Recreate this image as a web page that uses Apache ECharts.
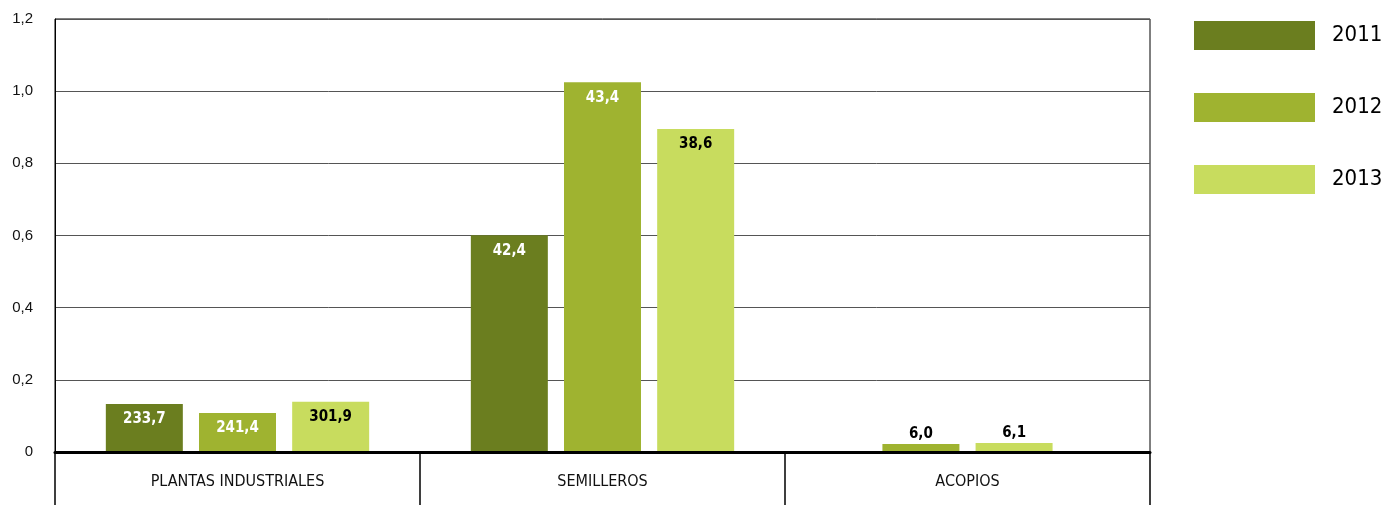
<!DOCTYPE html>
<html>
<head>
<meta charset="utf-8">
<script src="https://cdn.jsdelivr.net/npm/echarts@6/dist/echarts.min.js"></script>
<style>
  html, body { margin: 0; padding: 0; background: #fff; }
  #chart { width: 1381px; height: 505px; }
</style>
</head>
<body>
<div id="chart"></div>
<script>
// ---- data ----
var categories = ['PLANTAS INDUSTRIALES', 'SEMILLEROS', 'ACOPIOS'];
var years = ['2011', '2012', '2013'];
var heights2011 = [0.133, 0.601, null];
var heights2012 = [0.108, 1.025, 0.022];
var heights2013 = [0.139, 0.895, 0.025];
var labels2011 = ['233,7', '42,4', ''];
var labels2012 = ['241,4', '43,4', '6,0'];
var labels2013 = ['301,9', '38,6', '6,1'];
var yTicks = [0, 0.2, 0.4, 0.6, 0.8, 1.0, 1.2];

var colors = ['#6b7e1f', '#9fb330', '#c8dc5e'];
var labelColors = ['#ffffff', '#ffffff', '#000000'];
var heights = [heights2011, heights2012, heights2013];
var labels = [labels2011, labels2012, labels2013];

var cond = '"DejaVu Sans Condensed", "Liberation Sans Narrow", "Liberation Sans", Arial, sans-serif';

// categories where some year is missing get their own (hidden) axis so the
// remaining bars are centred in the category
var partialCats = categories.map(function (c, ci) {
  return heights.some(function (h) { return h[ci] == null; });
});

function barLabel(si) {
  return {
    show: true,
    position: 'insideTop',
    distance: 8,
    color: labelColors[si],
    fontFamily: cond,
    fontWeight: 'bold',
    fontSize: 15,
    formatter: function (p) { return p.data.lbl; }
  };
}

var series = [];
years.forEach(function (y, si) {
  series.push({
    name: y,
    type: 'bar',
    xAxisIndex: 0,
    barWidth: 77,
    barGap: '21%',
    itemStyle: { color: colors[si] },
    label: barLabel(si),
    data: heights[si].map(function (h, ci) {
      return partialCats[ci] ? { value: null, lbl: '' } : { value: h, lbl: labels[si][ci] };
    })
  });
});
years.forEach(function (y, si) {
  var has = heights[si].some(function (h, ci) { return partialCats[ci] && h != null; });
  if (!has) return;
  series.push({
    name: y,
    type: 'bar',
    xAxisIndex: 1,
    barWidth: 77,
    barGap: '21%',
    itemStyle: { color: colors[si] },
    label: Object.assign(barLabel(si), { position: 'top', distance: 2, color: '#000' }),
    data: heights[si].map(function (h, ci) {
      return partialCats[ci] ? { value: h, lbl: labels[si][ci] } : { value: null, lbl: '' };
    })
  });
});

var chart = echarts.init(document.getElementById('chart'), null, { renderer: 'canvas' });
chart.setOption({
  animation: false,
  color: colors,
  grid: {
    left: 55, right: 231, top: 19, bottom: 53,
    show: true, borderColor: '#000', borderWidth: 1, backgroundColor: 'transparent'
  },
  legend: {
    orient: 'vertical',
    left: 1194,
    top: 21,
    padding: 0,
    itemWidth: 121,
    itemHeight: 29,
    itemGap: 43,
    icon: 'rect',
    data: years,
    textStyle: {
      fontFamily: cond,
      fontSize: 22,
      color: '#000',
      padding: [0, 0, 0, 12]
    }
  },
  xAxis: [{
    type: 'category',
    data: categories,
    z: 3,
    axisLine: { show: true, lineStyle: { color: '#000', width: 3 } },
    axisTick: { show: true, length: 60, lineStyle: { color: '#000', width: 1.5 } },
    axisLabel: {
      margin: 22,
      fontFamily: cond,
      fontSize: 16,
      color: '#111'
    },
    splitLine: { show: false }
  }, {
    type: 'category',
    data: categories,
    show: false
  }],
  yAxis: {
    type: 'value',
    min: yTicks[0],
    max: yTicks[yTicks.length - 1],
    interval: 0.2,
    axisLine: { show: true, lineStyle: { color: '#000', width: 1 } },
    axisTick: { show: false },
    splitLine: { show: true, lineStyle: { color: '#555', width: 1 } },
    axisLabel: {
      margin: 22,
      fontFamily: '"Liberation Sans", Arial, sans-serif',
      fontSize: 15,
      color: '#111',
      formatter: function (v) {
        return Math.abs(v) < 1e-9 ? '0' : v.toFixed(1).replace('.', ',');
      }
    }
  },
  series: series
});
</script>
</body>
</html>
